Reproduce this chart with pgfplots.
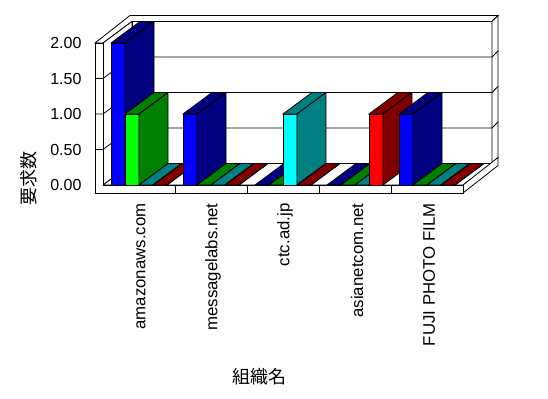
\documentclass[border=0pt]{standalone}
\usepackage{pgfplots}
\pgfplotsset{compat=1.18}
\usepackage{pgfplotstable}
\usepackage{fontspec}
\setmainfont{Liberation Sans}
\newfontfamily\cjk{Noto Sans CJK JP}
\definecolor{cB}{RGB}{0,0,255}
\definecolor{cBd}{RGB}{0,0,128}
\definecolor{cG}{RGB}{0,255,0}
\definecolor{cGd}{RGB}{0,128,0}
\definecolor{cC}{RGB}{0,255,255}
\definecolor{cCd}{RGB}{0,128,128}
\definecolor{cR}{RGB}{255,0,0}
\definecolor{cRd}{RGB}{128,0,0}
\pgfplotstableread{
cat blue green cyan red
0 2 1 0 0
1 1 0 0 0
2 0 0 1 0
3 0 0 0 1
4 1 0 0 0
}\datatable
% 3D bar: #1 category, #2 series index, #3 value, #4 front colour, #5 dark colour
\newcommand\barthreed[5]{%
  \pgfmathsetmacro\xL{#1+0.111+0.1944*#2}%
  \pgfmathsetmacro\xR{\xL+0.1944}%
  \pgfmathsetmacro\xLb{\xL+0.403}%
  \pgfmathsetmacro\xRb{\xR+0.403}%
  \pgfmathsetmacro\vT{#3+0.303}%
  \addplot[fill=#4,draw=black,line width=0.8bp] coordinates {(\xL,0) (\xR,0) (\xR,#3) (\xL,#3)} -- cycle;
  \addplot[fill=#5,draw=black,line width=0.8bp] coordinates {(\xL,#3) (\xR,#3) (\xRb,\vT) (\xLb,\vT)} -- cycle;
  \addplot[fill=#5,draw=black,line width=0.8bp] coordinates {(\xR,0) (\xRb,0.303) (\xRb,\vT) (\xR,#3)} -- cycle;
}
\begin{document}
\begin{tikzpicture}
\begin{scope}[x=1bp,y=-1bp,shift={(-103bp,185bp)},line width=0.8bp,line join=miter]
\path[use as bounding box] (0,0) rectangle (548,398);
% top of walls
\draw[fill=white] (95,43) -- (103,43) -- (132,21.5) -- (492,21.5) -- (498,15.5) -- (130,15.5) -- cycle;
% back wall
\draw[fill=white] (132,21.5) rectangle (492,163.5);
% right side of back wall slab
\draw[fill=white] (492,21.5) -- (498,15.5) -- (498,157.5) -- (492,163.5) -- cycle;
% left wall inner face
\draw[fill=white] (103,43) -- (132,21.5) -- (132,163.5) -- (103,185) -- cycle;
% floor
\draw[fill=white] (103,185) -- (463,185) -- (492,163.5) -- (132,163.5) -- cycle;
% floor slab right side
\draw[fill=white] (463,185) -- (498,157.5) -- (498,165.5) -- (463,193) -- cycle;
% front L
\draw[fill=white] (95,43) -- (103,43) -- (103,185) -- (463,185) -- (463,193) -- (95,193) -- cycle;
\foreach \q in {149.5,114,78.5}{
  \draw (95,\q) -- (103,\q) -- (132,\q-21.5) -- (492,\q-21.5) -- (498,\q-27.5);
}
\foreach \c in {175,247,319,391}{
  \draw (\c,185) -- (\c,193);
}
\end{scope}
\begin{axis}[
  at={(0,0)}, anchor=origin,
  x=72bp, y=71bp,
  xmin=-0.111, xmax=5, ymin=-0.113, ymax=2,
  clip=false,
  axis line style={draw=none},
  major tick length=0pt,
  /pgf/number format/assume math mode=true,
  ytick={0,0.5,1,1.5,2},
  yticklabel={\pgfmathprintnumber[fixed,fixed zerofill,precision=2]{\tick}},
  yticklabel style={xshift=-10bp,font=\fontsize{16bp}{19bp}\selectfont},
  xtick={0.5,1.5,2.5,3.5,4.5},
  xticklabels={amazonaws.com,messagelabs.net,ctc.ad.jp,asianetcom.net,FUJI PHOTO FILM},
  xticklabel style={xshift=2bp,yshift=-7bp,rotate=90,anchor=east,font=\fontsize{16.8bp}{19bp}\selectfont},
  xlabel={\cjk 組織名},
  ylabel={\cjk 要求数},
  xlabel style={at={(rel axis cs:0.448,-1.226)},anchor=center,font=\fontsize{18bp}{21bp}\selectfont},
  ylabel style={at={(rel axis cs:-0.181,0.10)},anchor=center,font=\fontsize{18bp}{21bp}\selectfont},
]
\pgfplotsforeachungrouped \i in {0,...,4}{%
  \pgfplotstablegetelem{\i}{blue}\of\datatable \edef\vA{\pgfplotsretval}%
  \pgfplotstablegetelem{\i}{green}\of\datatable \edef\vB{\pgfplotsretval}%
  \pgfplotstablegetelem{\i}{cyan}\of\datatable \edef\vC{\pgfplotsretval}%
  \pgfplotstablegetelem{\i}{red}\of\datatable \edef\vD{\pgfplotsretval}%
  \barthreed{\i}{0}{\vA}{cB}{cBd}%
  \barthreed{\i}{1}{\vB}{cG}{cGd}%
  \barthreed{\i}{2}{\vC}{cC}{cCd}%
  \barthreed{\i}{3}{\vD}{cR}{cRd}%
}
\end{axis}
\end{tikzpicture}
\end{document}
